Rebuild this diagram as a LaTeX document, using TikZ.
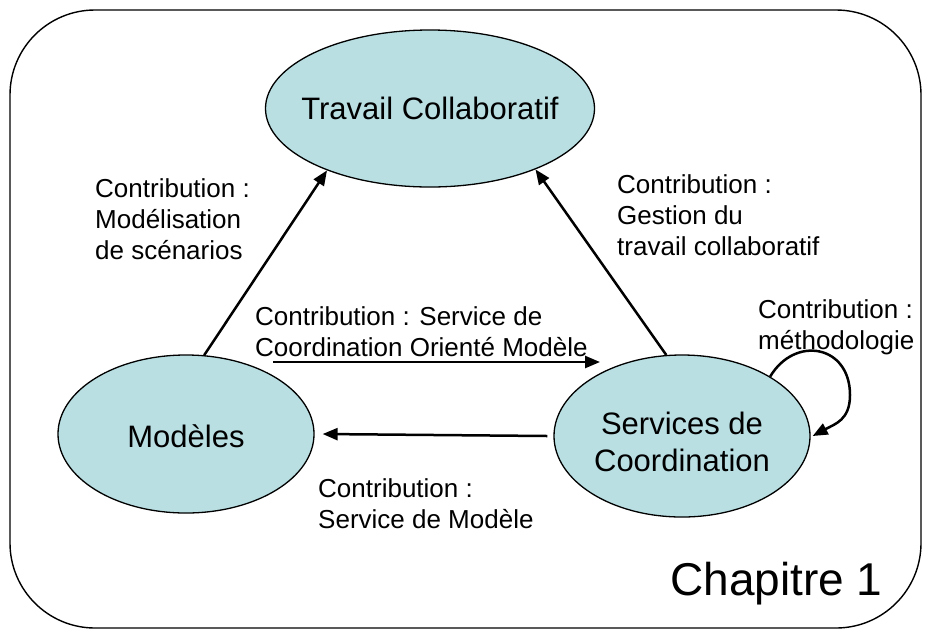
\documentclass[tikz,border=0pt]{standalone}
\usepackage{fontspec}
\setmainfont{Liberation Sans}
\usetikzlibrary{arrows.meta,shapes.geometric}
\definecolor{bubblefill}{RGB}{185,223,227}
\newcommand{\lbltab}[1]{\begin{tabular}[t]{@{}l@{}}#1\end{tabular}}
\newcommand{\ctrtab}[1]{\makebox[0pt]{\begin{tabular}[t]{@{}c@{}}#1\end{tabular}}}
\begin{document}
\begin{tikzpicture}[x=1pt,y=-1pt,
  bubble/.style={ellipse,draw=black,line width=1.3pt,fill=bubblefill,inner sep=0pt,font=\fontsize{31}{37}\selectfont},
  lbl/.style={anchor=base west,inner sep=0pt,font=\fontsize{26}{31}\selectfont},
  conn/.style={line width=2.5pt,-{Triangle[length=15pt,width=12pt]}},
  frame/.style={draw=black,line width=1.4pt,rounded corners=85pt}
]
\useasboundingbox (0,0) rectangle (925,630);
\draw[frame] (10,10) rectangle (921,628);

\node[bubble,minimum width=329pt,minimum height=157pt,text height=21pt,text depth=0pt] (tc) at (430,108.5) {\makebox[0pt]{Travail Collaboratif}};
\node[bubble,minimum width=256pt,minimum height=158pt,text height=26pt,text depth=0pt] (mo) at (186,434) {\makebox[0pt]{Modèles}};
\node[bubble,minimum width=256pt,minimum height=162pt,text height=0pt,text depth=4pt] (sc) at (682,436) {\ctrtab{Services de\\Coordination}};

\node[lbl] (l1) at (95,197) {\lbltab{Contribution :\\Modélisation\\de scénarios}};
\node[lbl] (l2) at (617,193) {\lbltab{Contribution :\\Gestion du\\travail collaboratif}};
\node[lbl] (l3) at (255,325) {\lbltab{Contribution : Service de\\Coordination Orienté Modèle}};
\node[lbl] (l4) at (758,318) {\lbltab{Contribution :\\méthodologie}};
\node[lbl] (l5) at (318,497) {\lbltab{Contribution :\\Service de Modèle}};
\node[anchor=base west,inner sep=0pt,font=\fontsize{46}{55}\selectfont] (ch) at (670,595) {Chapitre 1};

\coordinate (h1) at (273,362);
\coordinate (h2) at (600,362);

\draw[conn] (mo.77.7) -- (tc.211.9);
\draw[conn] (sc.101) -- (tc.330);
\draw[conn] (h1) -- (h2);
\draw[conn] ([xshift=-6pt]sc.west) -- ([xshift=8pt]mo.east);
\draw[conn] (sc.34) .. controls (795,335) and (850,345) .. (850,395) .. controls (850,420) and (835,424) .. ([xshift=2pt]sc.east);
\end{tikzpicture}
\end{document}
